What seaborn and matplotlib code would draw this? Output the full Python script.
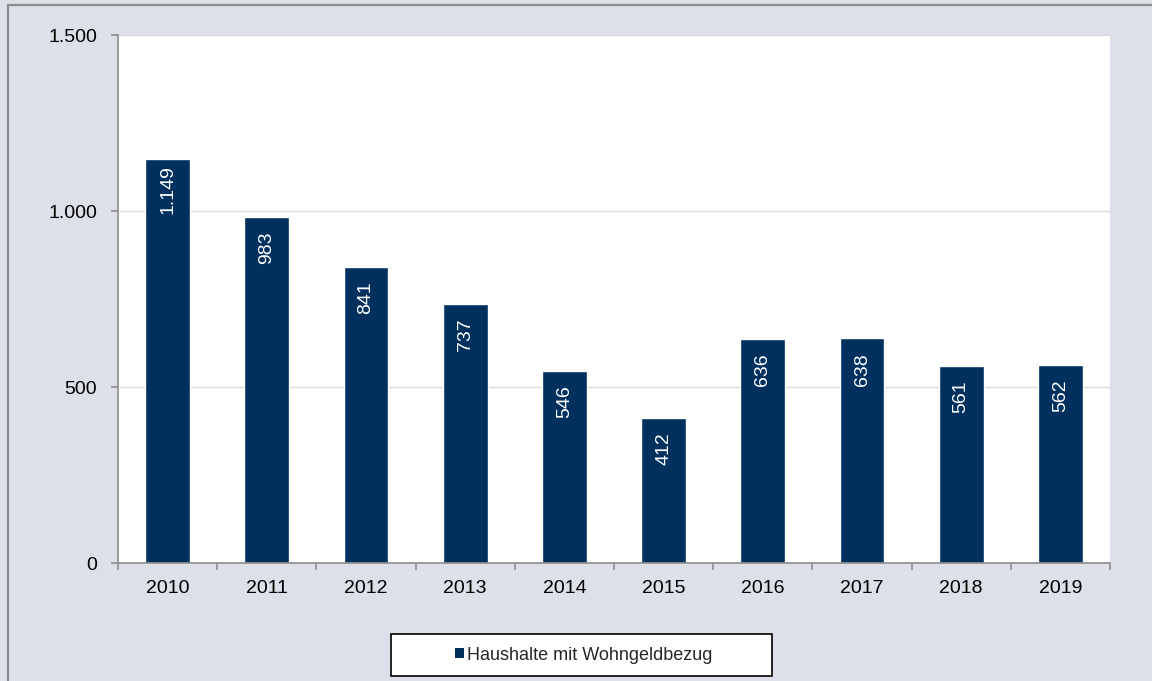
import matplotlib
matplotlib.use("Agg")
import matplotlib.pyplot as plt
from matplotlib.patches import Rectangle
from matplotlib.ticker import FuncFormatter, FixedLocator
import seaborn as sns
import pandas as pd

years = ["2010", "2011", "2012", "2013", "2014", "2015", "2016", "2017", "2018", "2019"]
households = [1149, 983, 841, 737, 546, 412, 636, 638, 561, 562]
series_name = "Haushalte mit Wohngeldbezug"

navy = "#00305e"
panel_bg = "#dde0e8"
axis_gray = "#8c8c8c"

sns.set_theme(style="white")
plt.rcParams["font.family"] = ["Liberation Sans", "DejaVu Sans"]

def de_thousands(v, pos=None):
    return f"{int(round(v)):,}".replace(",", ".")

df = pd.DataFrame({"Jahr": years, "Wert": households})

fig = plt.figure(figsize=(11.52, 6.81), dpi=100, facecolor=panel_bg)
W, H = 1152, 681
ax = fig.add_axes([118 / W, 1 - 563 / H, (1110 - 118) / W, (563 - 35) / H])
ax.set_facecolor("white")

sns.barplot(data=df, x="Jahr", y="Wert", color=navy, width=0.45,
            saturation=1, ax=ax, label=series_name, legend=False)

ax.set_ylim(0, 1500)
ax.set_xlim(-0.5, len(years) - 0.5)
ax.yaxis.set_major_locator(FixedLocator([0, 500, 1000, 1500]))
ax.yaxis.set_major_formatter(FuncFormatter(de_thousands))
ax.grid(axis="y", color="#d9d9d9", linewidth=0.9)
ax.set_axisbelow(True)
ax.set_xlabel("")
ax.set_ylabel("")

for side in ["top", "right"]:
    ax.spines[side].set_visible(False)
for side in ["left", "bottom"]:
    ax.spines[side].set_color(axis_gray)
    ax.spines[side].set_linewidth(1.2)

ax.tick_params(axis="y", which="major", direction="out", length=5, width=1.2,
               color=axis_gray, labelsize=14, labelcolor="black", pad=10, left=True)
# category boundaries carry the x ticks, labels stay centred under the bars
ax.set_xticks([i - 0.5 for i in range(len(years) + 1)], minor=True)
ax.tick_params(axis="x", which="minor", direction="out", length=5, width=1.2,
               color=axis_gray, bottom=True)
ax.tick_params(axis="x", which="major", length=0, labelsize=14,
               labelcolor="black", pad=12)

for i, v in enumerate(households):
    ax.annotate(de_thousands(v), xy=(i, v), xytext=(0, -31),
                textcoords="offset pixels", rotation=90, ha="center", va="center",
                color="white", fontsize=14)

# outer frame of the chart panel
fig.add_artist(plt.Line2D([8 / W, 8 / W], [0, 1 - 5 / H], transform=fig.transFigure,
                          color=axis_gray, linewidth=1.6))
fig.add_artist(plt.Line2D([8 / W, 1], [1 - 5 / H, 1 - 5 / H], transform=fig.transFigure,
                          color=axis_gray, linewidth=1.6))

# legend box
fig.add_artist(Rectangle((391 / W, 1 - 676 / H), (772 - 391) / W, (676 - 634) / H,
                         transform=fig.transFigure, facecolor="white",
                         edgecolor="black", linewidth=1.2))
handle = Rectangle((0, 0), 1, 1, facecolor=navy, edgecolor="none")
fig.legend([handle], [series_name], loc="center",
           bbox_to_anchor=(584 / W, 1 - 655 / H), frameon=False, fontsize=13,
           handlelength=0.45, handleheight=0.45, handletextpad=0.2)

fig.savefig("out.png", dpi=100, facecolor=panel_bg)
